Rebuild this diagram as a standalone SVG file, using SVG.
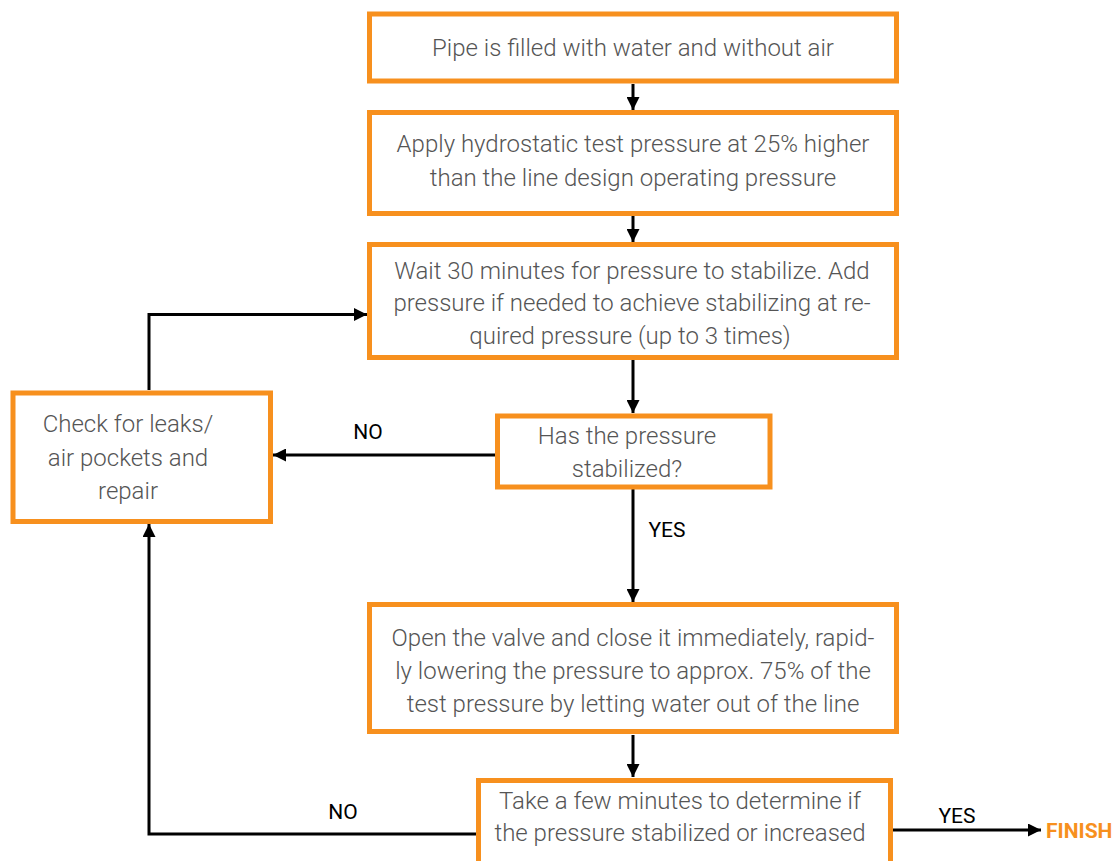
<svg xmlns="http://www.w3.org/2000/svg" width="1117" height="861" viewBox="0 0 1117 861">
<defs>
<marker id="arr" markerUnits="userSpaceOnUse" markerWidth="14" markerHeight="13" refX="13" refY="6.5" orient="auto">
<path d="M0,0 L13,6.5 L0,13 z" fill="#000"/>
</marker>
<style>
.box{fill:#fff;stroke:#F7901E;stroke-width:5}
.t{font-family:Roboto,"Liberation Sans",sans-serif;font-weight:300;font-size:24px;fill:#555;text-anchor:middle}
.lbl{font-family:Roboto,"Liberation Sans",sans-serif;font-weight:400;font-size:21px;fill:#000;text-anchor:middle}
.fin{font-family:Roboto,"Liberation Sans",sans-serif;font-weight:700;font-size:21px;fill:#F7901E}
.c{fill:none;stroke:#000;stroke-width:3}
</style>
</defs>
<rect width="1117" height="861" fill="#fff"/>
<g id="connectors">
<line class="c" x1="633" y1="84" x2="633" y2="110" marker-end="url(#arr)"/>
<line class="c" x1="633" y1="216" x2="633" y2="242" marker-end="url(#arr)"/>
<line class="c" x1="633" y1="360" x2="633" y2="413" marker-end="url(#arr)"/>
<line class="c" x1="633" y1="489" x2="633" y2="602" marker-end="url(#arr)"/>
<line class="c" x1="633" y1="735" x2="633" y2="777" marker-end="url(#arr)"/>
<line class="c" x1="495" y1="455" x2="273" y2="455" marker-end="url(#arr)"/>
<polyline class="c" points="149,390 149,314.5 367,314.5" marker-end="url(#arr)"/>
<polyline class="c" points="476,834 149,834 149,524" marker-end="url(#arr)"/>
<line class="c" x1="893" y1="830" x2="1041" y2="830" marker-end="url(#arr)"/>
<text class="lbl" x="368" y="439">NO</text>
<text class="lbl" x="667" y="537">YES</text>
<text class="lbl" x="343" y="819">NO</text>
<text class="lbl" x="957" y="823">YES</text>
<text class="fin" x="1046" y="838">FINISH</text>
</g>
<g id="n1">
<rect class="box" x="369.5" y="14" width="527" height="67"/>
<text class="t" x="633" y="56">Pipe is filled with water and without air</text>
</g>
<g id="n2">
<rect class="box" x="369.5" y="112.5" width="527" height="101"/>
<text class="t" x="633" y="152">Apply hydrostatic test pressure at 25% higher</text>
<text class="t" x="633" y="186">than the line design operating pressure</text>
</g>
<g id="n3">
<rect class="box" x="369.5" y="244.5" width="527" height="113"/>
<text class="t" x="632" y="279">Wait 30 minutes for pressure to stabilize. Add</text>
<text class="t" x="632" y="311">pressure if needed to achieve stabilizing at re-</text>
<text class="t" x="630" y="344">quired pressure (up to 3 times)</text>
</g>
<g id="n4">
<rect class="box" x="13" y="393" width="257.5" height="128.5"/>
<text class="t" x="128" y="432">Check for leaks/</text>
<text class="t" x="128" y="466">air pockets and</text>
<text class="t" x="128" y="499">repair</text>
</g>
<g id="n5">
<rect class="box" x="497.5" y="416" width="272.5" height="71"/>
<text class="t" x="627" y="444">Has the pressure</text>
<text class="t" x="627" y="477">stabilized?</text>
</g>
<g id="n6">
<rect class="box" x="369.5" y="604.5" width="527" height="127"/>
<text class="t" x="633" y="646">Open the valve and close it immediately, rapid-</text>
<text class="t" x="633" y="679">ly lowering the pressure to approx. 75% of the</text>
<text class="t" x="633" y="712">test pressure by letting water out of the line</text>
</g>
<g id="n7">
<rect class="box" x="478.5" y="780.5" width="412" height="100"/>
<text class="t" x="680" y="809">Take a few minutes to determine if</text>
<text class="t" x="680" y="841">the pressure stabilized or increased</text>
</g>
</svg>
